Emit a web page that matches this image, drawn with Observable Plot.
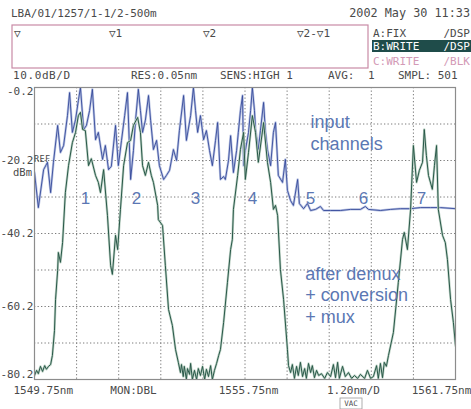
<!DOCTYPE html>
<html><head><meta charset="utf-8">
<script src="https://cdn.jsdelivr.net/npm/d3@7"></script>
<script src="https://cdn.jsdelivr.net/npm/@observablehq/plot@0.6"></script>
<style>
html,body{margin:0;padding:0;background:#fff;}
#chart{position:relative;width:471px;height:409px;overflow:hidden;}
</style></head>
<body><div id="chart"></div>
<script>
// Input channels trace (blue) – wavelength (nm) and power (dBm)
const blueNm = [1549.75,1549.86,1550.01,1550.12,1550.21,1550.29,1550.41,1550.49,1550.58,1550.69,1550.75,1550.83,1550.92,1551.00,1551.06,1551.15,1551.23,1551.32,1551.40,1551.49,1551.57,1551.69,1551.77,1551.86,1551.94,1552.06,1552.14,1552.23,1552.32,1552.40,1552.49,1552.57,1552.63,1552.71,1552.77,1552.83,1552.91,1553.00,1553.06,1553.14,1553.23,1553.31,1553.43,1553.51,1553.60,1553.71,1553.80,1553.88,1554.00,1554.08,1554.20,1554.28,1554.34,1554.40,1554.48,1554.57,1554.65,1554.74,1554.82,1554.91,1554.97,1555.05,1555.14,1555.19,1555.28,1555.34,1555.42,1555.51,1555.56,1555.62,1555.68,1555.71,1555.76,1555.85,1555.91,1555.96,1556.02,1556.05,1556.13,1556.19,1556.28,1556.33,1556.39,1556.48,1556.56,1556.62,1556.70,1556.82,1556.90,1556.96,1557.05,1557.13,1557.25,1557.30,1557.42,1557.53,1557.62,1557.76,1557.90,1557.99,1558.19,1558.47,1558.76,1559.04,1559.18,1559.27,1559.61,1559.90,1560.18,1560.47,1560.75,1561.04,1561.32,1561.75];
const blueDb = [-23.5,-33.1,-22.7,-20.7,-29.0,-20.7,-10.6,-18.0,-16.1,-7.9,-1.6,-12.5,-9.0,-3.8,-0.2,-11.7,-10.6,-6.5,-0.7,-14.5,-12.5,-19.9,-16.1,-22.7,-21.8,-10.6,-21.6,-14.7,-7.9,-1.6,-25.4,-17.5,-9.2,-0.7,-6.5,-12.5,-9.2,-2.4,-9.2,-17.2,-14.7,-21.6,-25.4,-24.3,-22.9,-17.2,-20.2,-12.0,-2.4,-14.7,-7.9,-0.2,-6.5,-12.5,-7.9,-14.5,-12.0,-17.5,-21.6,-14.7,-9.8,-25.4,-24.6,-25.4,-20.2,-13.4,-23.5,-17.5,-12.5,-6.5,-2.4,-21.6,-17.5,-12.5,-6.5,-0.2,-6.5,-11.7,-17.2,-12.0,-4.3,-12.0,-17.2,-21.6,-12.5,-9.8,-24.3,-26.2,-19.9,-28.4,-31.2,-32.5,-25.4,-32.0,-33.4,-32.0,-33.9,-33.6,-32.8,-33.9,-33.9,-33.9,-33.6,-33.6,-32.8,-33.6,-33.9,-33.6,-33.4,-33.4,-33.1,-33.1,-33.1,-33.4];

// After demux + conversion + mux trace (green)
const greenNm = [1549.75,1549.81,1549.86,1549.92,1549.98,1550.04,1550.09,1550.15,1550.21,1550.26,1550.32,1550.35,1550.41,1550.43,1550.49,1550.55,1550.63,1550.72,1550.83,1550.92,1551.00,1551.06,1551.12,1551.20,1551.29,1551.37,1551.49,1551.57,1551.63,1551.72,1551.83,1551.92,1551.97,1552.06,1552.12,1552.20,1552.29,1552.40,1552.49,1552.57,1552.69,1552.77,1552.83,1552.91,1553.00,1553.08,1553.14,1553.26,1553.28,1553.40,1553.48,1553.57,1553.68,1553.77,1553.85,1553.91,1553.94,1553.99,1554.02,1554.08,1554.11,1554.17,1554.20,1554.25,1554.31,1554.37,1554.42,1554.48,1554.54,1554.60,1554.65,1554.71,1554.77,1554.82,1554.88,1554.94,1555.00,1555.05,1555.14,1555.25,1555.34,1555.39,1555.42,1555.54,1555.62,1555.71,1555.76,1555.85,1555.96,1556.05,1556.13,1556.28,1556.39,1556.48,1556.56,1556.62,1556.68,1556.76,1556.85,1556.96,1556.99,1557.05,1557.10,1557.16,1557.22,1557.27,1557.33,1557.39,1557.45,1557.50,1557.56,1557.62,1557.67,1557.73,1557.79,1557.85,1557.93,1558.02,1558.10,1558.19,1558.27,1558.33,1558.39,1558.44,1558.53,1558.61,1558.70,1558.79,1558.87,1558.96,1559.04,1559.16,1559.24,1559.33,1559.41,1559.50,1559.55,1559.61,1559.67,1559.72,1559.78,1559.84,1559.98,1560.12,1560.24,1560.29,1560.38,1560.47,1560.55,1560.64,1560.72,1560.81,1560.86,1560.92,1560.98,1561.09,1561.15,1561.21,1561.26,1561.38,1561.46,1561.52,1561.61,1561.69,1561.75];
const greenDb = [-79.1,-77.7,-78.6,-76.6,-78.0,-76.4,-77.4,-76.6,-76.1,-73.6,-66.8,-58.3,-50.3,-45.4,-48.1,-42.7,-29.0,-21.6,-15.3,-12.5,-7.9,-7.0,-11.7,-12.0,-21.6,-19.7,-24.3,-26.2,-29.0,-22.7,-35.3,-49.0,-51.4,-40.7,-44.6,-33.6,-21.6,-15.3,-14.7,-10.6,-8.4,-12.5,-21.6,-24.3,-20.7,-24.3,-26.2,-32.5,-36.4,-38.0,-49.0,-61.0,-65.4,-72.0,-75.5,-78.3,-76.1,-79.4,-76.6,-80.2,-77.2,-78.8,-75.8,-80.2,-77.7,-80.2,-77.2,-79.1,-76.6,-80.2,-77.4,-79.4,-76.4,-80.2,-77.7,-75.8,-73.6,-72.0,-64.6,-53.6,-44.6,-41.8,-33.6,-24.3,-17.2,-12.5,-25.4,-18.0,-7.9,-12.5,-20.7,-9.8,-20.7,-26.2,-33.6,-32.5,-35.3,-50.1,-58.3,-72.0,-76.4,-78.3,-76.1,-79.9,-76.6,-79.1,-75.5,-79.4,-77.2,-79.9,-75.8,-78.3,-76.4,-79.7,-77.7,-79.1,-78.6,-79.9,-78.3,-79.4,-76.1,-79.7,-75.5,-79.9,-76.6,-79.4,-78.3,-79.9,-79.1,-79.9,-78.8,-79.9,-77.7,-79.9,-79.4,-76.4,-79.9,-75.8,-79.7,-75.5,-76.6,-73.6,-67.3,-53.6,-41.8,-39.9,-44.6,-33.6,-16.1,-26.2,-22.9,-20.7,-11.7,-18.8,-24.3,-28.1,-21.6,-16.1,-33.6,-40.7,-42.7,-47.3,-58.3,-64.6,-70.9];

// Axis / grid values
const xGrid = [1550.95,1552.15,1553.35,1554.55,1555.75,1556.95,1558.15,1559.35,1560.55];
const yGrid = [-10.2,-20.2,-30.2,-40.2,-50.2,-60.2,-70.2];
const yLabels = [-0.2,-20.2,-40.2,-60.2,-80.2];
const yLabelShift = [4,0,0,0,-5];
const xLabelText = ["1549.75nm","MON:DBL","1555.75nm","1.20nm/D","1561.75nm"];
const xLabelPos = [1550.00,1552.57,1555.85,1558.84,1561.35];

// Channel numbers and annotations
const chanText = ["1","2","3","4","5","6","7"];
const chanNm = [1551.20,1552.66,1554.34,1555.96,1557.62,1559.13,1560.78];
const noteText = ["input","channels","after demux","+ conversion","+ mux"];
const noteNm = [1557.62,1557.62,1557.47,1557.47,1557.47];
const noteDb = [-9.8,-15.8,-51.4,-57.2,-63.2];

const blue = blueNm.map((x,i)=>({x, y: blueDb[i]}));
const green = greenNm.map((x,i)=>({x, y: greenDb[i]}));
const yLab = yLabels.map((v,i)=>({v, s: yLabelShift[i]}));
const xLabels = xLabelText.map((t,i)=>({t, x: xLabelPos[i]}));
const chans = chanText.map((t,i)=>({t, x: chanNm[i], y: -30.6}));
const notes = noteText.map((t,i)=>({t, x: noteNm[i], y: noteDb[i]}));

const mono = "DejaVu Sans Mono, monospace";
const tc = "#4a4a4a";

const plot = Plot.plot({
  width: 471, height: 409,
  marginLeft: 34, marginRight: 16, marginTop: 87, marginBottom: 30,
  x: {domain: [1549.75, 1561.75], axis: null},
  y: {domain: [-80.2, -0.2], axis: null},
  style: {background: "#fff", fontFamily: mono, overflow: "visible"},
  marks: [
    Plot.ruleX(xGrid, {stroke: "#7a7a7a", strokeDasharray: "1.3,2.2", strokeWidth: 1}),
    Plot.ruleY(yGrid, {stroke: "#7a7a7a", strokeDasharray: "1.3,2.2", strokeWidth: 1}),
    Plot.line(blue, {x: "x", y: "y", stroke: "#bcc6e4", strokeWidth: 2.4, clip: true}),
    Plot.line(blue, {x: "x", y: "y", stroke: "#34489a", strokeWidth: 0.9, clip: true}),
    Plot.line(green, {x: "x", y: "y", stroke: "#c0d4c8", strokeWidth: 2.4, clip: true}),
    Plot.line(green, {x: "x", y: "y", stroke: "#285848", strokeWidth: 1, clip: true}),
    Plot.frame({stroke: "#8c8c8c", strokeWidth: 1.2}),
    ...yLab.map(d => Plot.text([d], {x: () => 1549.75, y: () => d.v, text: () => d.v.toFixed(1), textAnchor: "end", dx: -1, dy: d.s, fontSize: 11, fill: tc, fontFamily: mono, letterSpacing: "-0.6px"})),
    Plot.text(xLabels, {x: "x", y: -80.2, text: "t", dy: 11, fontSize: 11, fill: tc, fontFamily: mono, lineAnchor: "middle"}),
    Plot.text(chans, {x: "x", y: "y", text: "t", fontSize: 17, fill: "#5b77b3", fontFamily: "Liberation Sans, Arial, sans-serif"}),
    Plot.text(notes, {x: "x", y: "y", text: "t", textAnchor: "start", fontSize: 18, fill: "#5b77b3", fontFamily: "Liberation Sans, Arial, sans-serif"})
  ]
});
document.getElementById("chart").appendChild(plot);

// Instrument header / annotation text
const svg = d3.select(plot);
function txt(x, y, s, opts = {}) {
  return svg.append("text").attr("x", x).attr("y", y)
    .attr("font-family", mono).attr("font-size", opts.size || 11)
    .attr("fill", opts.fill || tc).attr("text-anchor", opts.anchor || "start")
    .attr("letter-spacing", opts.ls || null)
    .text(s);
}
txt(11, 17, "LBA/01/1257/1-1/2-500m");
txt(470, 17, "2002 May 30 11:33", {anchor: "end", size: 11.8});
svg.append("rect").attr("x", 12).attr("y", 25).attr("width", 356).attr("height", 43)
  .attr("fill", "none").attr("stroke", "#c98aa6").attr("stroke-width", 1.2);
txt(14, 37, "\u25BD");
txt(109, 37, "\u25BD1");
txt(203, 37, "\u25BD2");
txt(297, 37, "\u25BD2-\u25BD1");
txt(373, 37, "A:FIX");
txt(470, 37, "/DSP", {anchor: "end"});
svg.append("rect").attr("x", 372).attr("y", 40).attr("width", 99).attr("height", 12).attr("fill", "#1f4c4a");
txt(373, 50, "B:WRITE", {fill: "#fff"});
txt(470, 50, "/DSP", {anchor: "end", fill: "#fff"});
txt(373, 65, "C:WRITE", {fill: "#d39ab6"});
txt(470, 65, "/BLK", {anchor: "end", fill: "#d39ab6"});
txt(13, 79, "10.0dB/D", {ls: "0.6px"});
txt(131, 79, "RES:0.05nm");
txt(220, 79, "SENS:HIGH 1");
txt(328, 79, "AVG:");
txt(368, 79, "1");
txt(398, 79, "SMPL: 501");
txt(34, 162, "REF", {size: 8.5, ls: "0.4px"});
txt(13, 176, "dBm", {size: 10.5});
svg.append("rect").attr("x", 340).attr("y", 398).attr("width", 22).attr("height", 11)
  .attr("fill", "none").attr("stroke", "#999").attr("stroke-width", 0.8);
txt(351, 406, "VAC", {anchor: "middle", size: 7.5});
</script>
</body></html>
